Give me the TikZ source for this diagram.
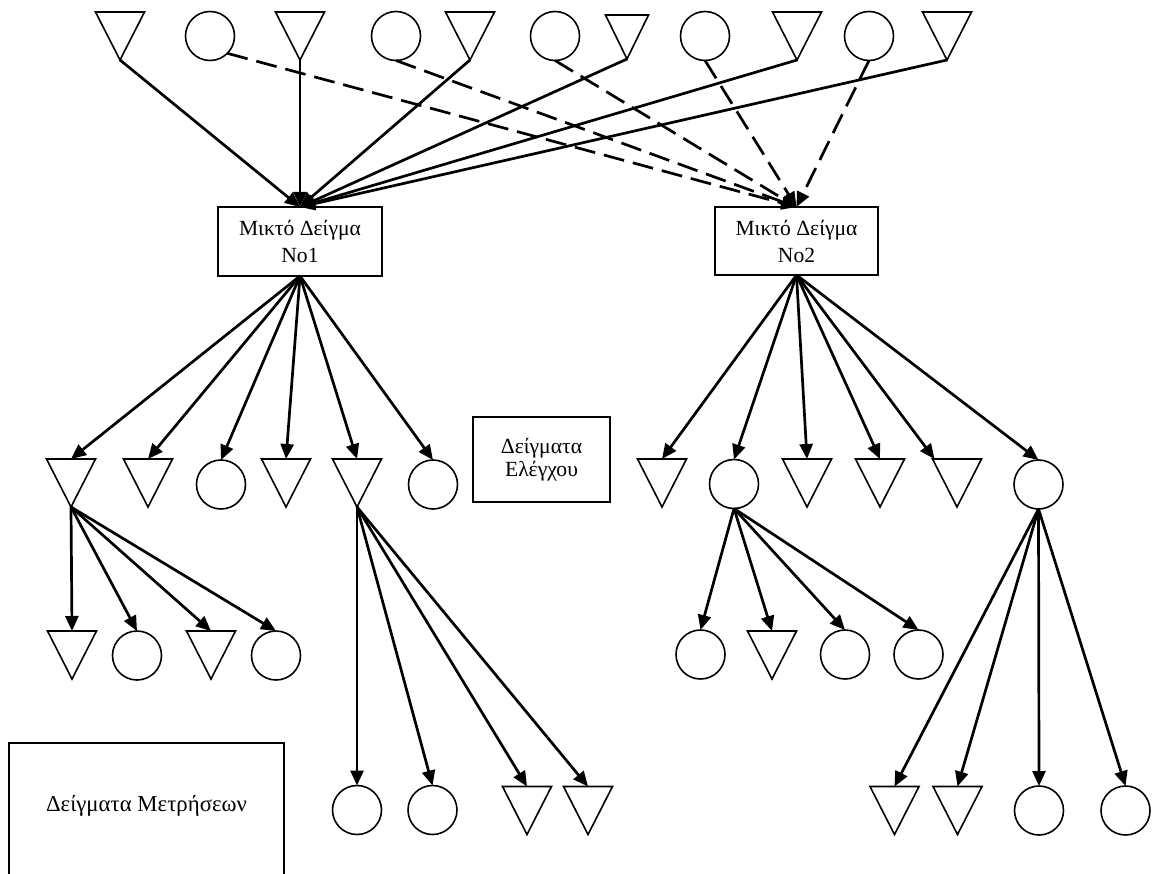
\documentclass[tikz,border=0pt]{standalone}
\usepackage{fontspec}
\setmainfont{Liberation Serif}
\usetikzlibrary{arrows.meta}

\tikzset{
  outline/.style={draw=black, line width=1.6pt},
  tribox/.style={rectangle, minimum width=49pt, minimum height=48pt, inner sep=0pt, outer sep=0pt},
  circ/.style={circle, outline, minimum size=49pt, inner sep=0pt, outer sep=0pt},
  labelbox/.style={rectangle, outline, inner sep=0pt, outer sep=0pt, align=center},
  arr/.style={line width=2.7pt, -{Triangle[length=15pt,width=13pt]}},
  dasharr/.style={arr, dash pattern=on 21pt off 9pt},
}

% inverted triangle: name, x, y (centre of its box)
\newcommand\trinode[3]{%
  \node[tribox] (#1) at (#2,#3) {};
  \draw[outline, line join=miter] (#1.north west) -- (#1.north east) -- (#1.south) -- cycle;}
% circle: name, x, y
\newcommand\circnode[3]{\node[circ] (#1) at (#2,#3) {};}

\begin{document}
\begin{tikzpicture}[x=1pt, y=-1pt]
  \useasboundingbox (0,0) rectangle (1155,874);

  % ---- top row ----
  \trinode{t1}{120}{36}
  \circnode{c1}{210}{36}
  \trinode{t2}{300}{36}
  \circnode{c2}{396}{36}
  \trinode{t3}{470}{36}
  \circnode{c3}{555}{36}
  \node[tribox, minimum width=43pt, minimum height=44pt] (t4) at (627,37) {};
  \draw[outline, line join=miter] (t4.north west) -- (t4.north east) -- (t4.south) -- cycle;
  \circnode{c4}{705}{36}
  \trinode{t5}{797}{36}
  \circnode{c5}{869}{36}
  \trinode{t6}{947}{36}

  % ---- composite samples ----
  \node[labelbox, minimum width=164pt, minimum height=69pt,
        font=\fontsize{21.6}{27}\selectfont] (mix1) at (300,241.5) {Μικτό Δείγμα\\No1};
  \node[labelbox, minimum width=163pt, minimum height=68pt,
        font=\fontsize{21.6}{27}\selectfont] (mix2) at (796.5,241) {Μικτό Δείγμα\\No2};

  % ---- legend boxes ----
  \node[labelbox, minimum width=137pt, minimum height=85pt,
        font=\fontsize{21.6}{23}\selectfont] (ctrl) at (541.5,459.5) {Δείγματα\\Ελέγχου};
  \node[rectangle, outline, minimum width=275pt, minimum height=140pt,
        inner sep=0pt, outer sep=0pt] (measbox) at (146.5,813) {};
  \node[font=\fontsize{22.8}{26}\selectfont, inner sep=0pt] (meastext) at (146.5,806) {Δείγματα Μετρήσεων};

  % ---- middle row ----
  \trinode{a}{71}{483}
  \trinode{b}{148}{483}
  \circnode{c}{221}{484.5}
  \trinode{d}{286}{483}
  \trinode{e}{357}{483}
  \circnode{f}{433}{484.5}

  \trinode{g}{662}{483}
  \circnode{h}{734}{484}
  \trinode{i}{807}{483}
  \trinode{j}{880}{483}
  \trinode{k}{957}{483}
  \circnode{l}{1038.5}{484.5}

  % ---- lower rows ----
  \trinode{aa}{72}{655}
  \circnode{ab}{137}{655.5}
  \trinode{ac}{211}{655}
  \circnode{ad}{276}{655.5}

  \circnode{ha}{700.5}{654.5}
  \trinode{hb}{772}{655}
  \circnode{hc}{845}{654.5}
  \circnode{hd}{918.5}{654.5}

  \circnode{ea}{357}{810}
  \circnode{eb}{432.5}{810}
  \trinode{ec}{527}{810.5}
  \trinode{ed}{588}{810.5}

  \trinode{la}{894.5}{810.5}
  \trinode{lb}{957.5}{810.5}
  \circnode{lc}{1039}{810.5}
  \circnode{ld}{1125.5}{810.5}

  % ---- connectors: triangles to No1 (solid), circles to No2 (dashed) ----
  \foreach \s in {t1,t2,t3,t4,t5,t6}
    \draw[arr] (\s.south) -- (mix1.north);
  \draw[dasharr] (c1.south east) -- (mix2.north);
  \foreach \s in {c2,c3,c4,c5}
    \draw[dasharr] (\s.south) -- (mix2.north);

  % ---- from the composite samples ----
  \foreach \t in {a,b,c,d,e,f}
    \draw[arr] (mix1.south) -- (\t.north);
  \foreach \t in {g,h,i,j,l}
    \draw[arr] (mix2.south) -- (\t.north);
  \draw[arr] (mix2.south) -- ([xshift=2pt]k.north west);

  % ---- second level ----
  \foreach \t in {aa,ab,ac,ad}
    \draw[arr] (a.south) -- (\t.north);
  \foreach \t in {ea,eb,ec,ed}
    \draw[arr] (e.south) -- (\t.north);
  \foreach \t in {ha,hb,hc,hd}
    \draw[arr] (h.south) -- (\t.north);
  \foreach \t in {la,lb,lc,ld}
    \draw[arr] (l.south) -- (\t.north);
\end{tikzpicture}
\end{document}
